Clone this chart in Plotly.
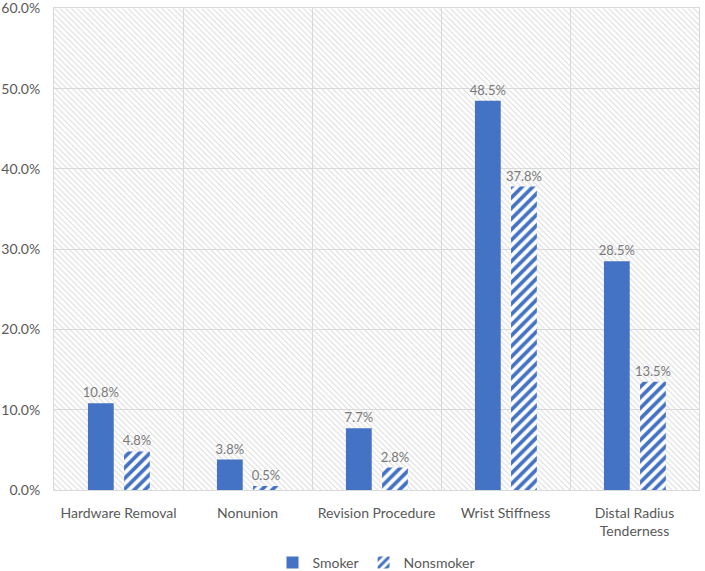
import plotly.graph_objects as go

categories = ["Hardware Removal", "Nonunion", "Revision Procedure", "Wrist Stiffness", "Distal Radius<br>Tenderness"]
smoker = [0.108, 0.038, 0.077, 0.485, 0.285]
nonsmoker = [0.048, 0.005, 0.028, 0.378, 0.135]
y_max = 0.6
y_ticks = [0, 0.1, 0.2, 0.3, 0.4, 0.5, 0.6]

BLUE = "#4472C4"
FONT = "Lato"

fig = go.Figure()

# background hatch spanning each category slot
fig.add_trace(go.Bar(
    x=categories, y=[y_max] * len(categories), width=1, offset=-0.5,
    marker=dict(color="rgba(0,0,0,0)", line=dict(width=0),
                pattern=dict(shape="\\", size=4, solidity=0.25, fgopacity=1,
                             fgcolor="#d9d9d9", bgcolor="rgba(0,0,0,0)")),
    showlegend=False, hoverinfo="skip",
))

fig.add_trace(go.Bar(
    x=categories, y=smoker, name="Smoker", width=0.2, offset=-0.237,
    marker=dict(color=BLUE, line=dict(width=0)),
    text=smoker, texttemplate="%{y:.1%}", textposition="outside", constraintext="none",
    textfont=dict(color="#7a7a7a", size=13, family=FONT), cliponaxis=False,
))
fig.add_trace(go.Bar(
    x=categories, y=nonsmoker, name="Nonsmoker", width=0.2, offset=0.043,
    marker=dict(color="white", line=dict(width=0),
                pattern=dict(shape="/", size=7.5, solidity=0.5, fgopacity=1,
                             fgcolor=BLUE, bgcolor="white")),
    text=nonsmoker, texttemplate="%{y:.1%}", textposition="outside", constraintext="none",
    textfont=dict(color="#7a7a7a", size=13, family=FONT), cliponaxis=False,
))

fig.update_layout(
    width=705, height=571,
    margin=dict(l=54, r=6, t=8, b=81, autoexpand=False),
    barmode="overlay",
    plot_bgcolor="white", paper_bgcolor="white",
    font=dict(family=FONT, size=14, color="#595959"),
    legend=dict(orientation="h", x=0.5, xanchor="center", y=-0.151, yanchor="middle",
                font=dict(size=14, color="#595959"), traceorder="normal", itemwidth=30),
)
fig.update_xaxes(
    type="category", tickson="boundaries", showgrid=True, gridcolor="#d9d9d9", gridwidth=1,
    showline=True, linecolor="#d9d9d9", linewidth=1, mirror=True, ticks="",
    range=[-0.5, len(categories) - 0.5], tickfont=dict(size=14, color="#595959"),
    automargin=False, ticklabelstandoff=10,
)
fig.update_yaxes(
    range=[0, y_max * 1.0008], tickvals=y_ticks, tickformat=".1%", showgrid=True,
    gridcolor="#d9d9d9", gridwidth=1, zeroline=False, showline=True,
    linecolor="#d9d9d9", linewidth=1, mirror=True, ticks="", ticklen=0,
    tickfont=dict(size=14, color="#595959"), automargin=False, ticklabelstandoff=10,
    ticklabeloverflow="allow",
)

fig.write_html("out.html", config={"displayModeBar": False},
               post_script="document.body.style.margin='0';")
